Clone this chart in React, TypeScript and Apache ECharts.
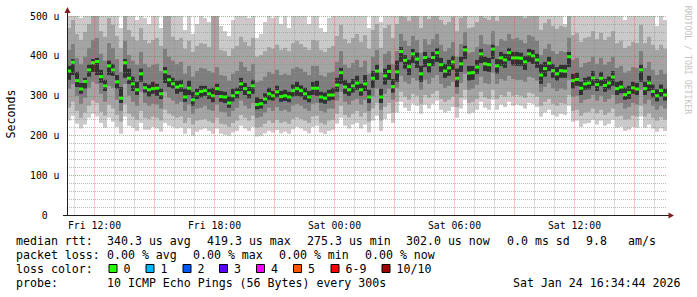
import React, { useEffect, useRef } from 'react';
import * as echarts from 'echarts';

// ---- time axis (hours since Fri 00:00) ----
const START_HOUR = 10.625;
const END_HOUR = 40.625;
const STEP_HOURS = 0.2;

// ---- median rtt (us), one value per 12-minute column ----
const median = [
  362, 384, 338, 317, 336, 365, 383, 386, 348, 325,
  375, 365, 335, 294, 383, 344, 330, 315, 355, 320,
  315, 318, 319, 305, 360, 340, 330, 322, 325, 297,
  319, 290, 305, 311, 313, 305, 300, 318, 298, 297,
  282, 300, 308, 330, 318, 308, 325, 278, 280, 292,
  305, 300, 310, 298, 300, 297, 313, 318, 313, 305,
  297, 319, 319, 297, 294, 302, 302, 327, 358, 322,
  315, 325, 332, 315, 330, 297, 344, 362, 297, 350,
  361, 323, 360, 411, 389, 373, 405, 392, 355, 396,
  378, 396, 408, 378, 362, 370, 385, 344, 380, 415,
  357, 358, 372, 405, 380, 378, 417, 375, 395, 390,
  408, 395, 395, 394, 385, 405, 400, 390, 352, 368,
  382, 363, 355, 363, 362, 398, 338, 341, 319, 330,
  332, 345, 328, 344, 326, 332, 347, 318, 322, 303,
  308, 320, 317, 365, 318, 332, 311, 300, 313, 302,
];

// ---- sorted ping distribution (smoke), us ----
const ping1 = [
  238, 250, 230, 218, 228, 245, 255, 248, 232, 220,
  245, 235, 222, 205, 248, 225, 220, 212, 232, 215,
  215, 222, 218, 210, 232, 225, 222, 218, 220, 205,
  218, 200, 210, 215, 218, 212, 205, 218, 205, 202,
  200, 208, 212, 225, 218, 212, 222, 198, 200, 206,
  212, 208, 214, 206, 210, 205, 216, 222, 218, 212,
  206, 222, 225, 208, 204, 212, 215, 230, 245, 225,
  218, 228, 232, 218, 228, 208, 238, 250, 212, 242,
  255, 232, 258, 285, 270, 262, 280, 275, 255, 278,
  268, 280, 288, 265, 258, 262, 272, 245, 268, 290,
  255, 258, 265, 285, 270, 265, 290, 265, 278, 272,
  285, 275, 278, 275, 268, 282, 280, 272, 248, 258,
  265, 252, 248, 255, 252, 275, 235, 238, 222, 230,
  232, 240, 228, 238, 225, 230, 240, 220, 222, 212,
  215, 222, 220, 248, 220, 228, 218, 210, 218, 212,
];
const ping2 = [
  270, 285, 262, 245, 258, 275, 288, 282, 260, 250,
  278, 268, 252, 235, 280, 255, 248, 240, 262, 245,
  242, 248, 245, 238, 265, 255, 250, 245, 248, 232,
  245, 228, 238, 240, 242, 236, 232, 245, 230, 228,
  222, 232, 238, 252, 245, 238, 250, 220, 222, 230,
  238, 232, 240, 232, 235, 230, 242, 246, 242, 238,
  232, 248, 250, 232, 228, 238, 240, 255, 275, 252,
  246, 255, 262, 248, 258, 235, 268, 282, 238, 272,
  282, 258, 285, 310, 298, 290, 305, 300, 280, 302,
  295, 305, 312, 292, 285, 290, 298, 272, 295, 315,
  282, 285, 292, 310, 296, 292, 315, 292, 302, 298,
  310, 300, 302, 300, 295, 308, 305, 298, 275, 285,
  292, 280, 275, 282, 280, 302, 262, 265, 250, 258,
  260, 268, 256, 265, 252, 258, 268, 248, 250, 240,
  242, 250, 248, 275, 248, 256, 245, 238, 246, 240,
];
const ping3 = [
  318, 330, 300, 280, 295, 320, 335, 330, 305, 285,
  325, 320, 290, 262, 330, 300, 285, 275, 310, 282,
  275, 280, 278, 268, 310, 295, 288, 280, 285, 262,
  278, 255, 268, 270, 275, 265, 262, 278, 260, 258,
  248, 262, 270, 288, 275, 268, 282, 245, 248, 258,
  270, 262, 272, 262, 265, 260, 275, 280, 275, 268,
  262, 280, 282, 262, 258, 268, 268, 288, 310, 285,
  278, 288, 292, 278, 290, 262, 300, 318, 265, 305,
  318, 290, 320, 350, 335, 330, 345, 338, 315, 340,
  330, 345, 352, 330, 320, 325, 335, 305, 332, 355,
  315, 318, 328, 348, 332, 330, 358, 330, 342, 338,
  350, 342, 340, 340, 335, 348, 345, 338, 310, 322,
  332, 318, 312, 318, 315, 340, 298, 300, 282, 290,
  292, 302, 288, 300, 285, 292, 302, 280, 282, 268,
  272, 282, 278, 315, 280, 290, 275, 265, 275, 268,
];
const ping5 = [
  340, 352, 322, 305, 318, 348, 360, 352, 333, 312,
  352, 350, 318, 282, 345, 330, 312, 302, 335, 308,
  298, 305, 300, 292, 332, 322, 318, 305, 310, 285,
  302, 275, 292, 296, 300, 292, 284, 302, 285, 282,
  270, 286, 294, 312, 302, 294, 305, 266, 268, 280,
  290, 288, 296, 285, 287, 284, 298, 300, 298, 290,
  284, 302, 300, 283, 280, 288, 290, 310, 330, 305,
  300, 308, 315, 300, 312, 282, 320, 340, 282, 328,
  340, 308, 335, 385, 368, 352, 382, 370, 335, 372,
  358, 375, 385, 360, 345, 350, 365, 322, 360, 392,
  338, 340, 355, 382, 362, 360, 392, 356, 375, 370,
  388, 376, 375, 375, 365, 385, 380, 370, 330, 348,
  362, 345, 338, 345, 345, 372, 318, 325, 302, 315,
  316, 325, 312, 325, 310, 316, 325, 302, 306, 290,
  292, 305, 302, 335, 302, 312, 296, 286, 298, 288,
];
const ping6 = [
  375, 392, 360, 332, 345, 378, 392, 395, 365, 340,
  388, 380, 352, 322, 392, 368, 348, 335, 368, 332,
  328, 335, 330, 318, 372, 352, 345, 338, 340, 318,
  338, 310, 318, 325, 325, 318, 320, 330, 312, 310,
  298, 318, 320, 345, 332, 322, 340, 296, 292, 306,
  320, 312, 325, 312, 315, 310, 328, 335, 326, 320,
  312, 335, 338, 310, 308, 315, 320, 345, 370, 340,
  332, 342, 350, 330, 352, 315, 362, 378, 318, 368,
  378, 342, 388, 422, 402, 390, 418, 408, 375, 410,
  395, 410, 420, 395, 380, 390, 400, 368, 398, 425,
  375, 375, 390, 418, 398, 395, 428, 392, 410, 405,
  420, 410, 410, 408, 400, 418, 415, 405, 380, 385,
  398, 380, 372, 378, 378, 410, 355, 358, 335, 345,
  348, 362, 342, 360, 342, 348, 362, 335, 338, 320,
  325, 335, 332, 378, 335, 350, 328, 316, 328, 318,
];
const ping8 = [
  415, 430, 395, 380, 398, 420, 440, 445, 405, 388,
  432, 420, 392, 360, 438, 402, 388, 378, 410, 380,
  372, 378, 380, 362, 418, 398, 388, 380, 385, 355,
  375, 348, 362, 370, 368, 362, 358, 372, 352, 350,
  338, 355, 362, 385, 372, 362, 380, 335, 338, 348,
  360, 355, 365, 352, 355, 352, 368, 372, 368, 360,
  352, 375, 375, 352, 348, 358, 360, 385, 412, 378,
  370, 382, 390, 372, 388, 355, 398, 415, 358, 405,
  412, 380, 412, 455, 438, 425, 450, 440, 408, 442,
  428, 442, 455, 428, 412, 420, 435, 398, 430, 460,
  408, 410, 422, 452, 430, 428, 462, 425, 442, 438,
  455, 442, 445, 440, 432, 452, 448, 438, 402, 418,
  430, 412, 405, 412, 410, 445, 390, 395, 372, 382,
  385, 398, 380, 395, 378, 385, 398, 370, 375, 358,
  362, 372, 370, 412, 370, 385, 365, 352, 365, 355,
];
const ping9 = [
  470, 490, 455, 440, 460, 480, 500, 505, 462, 448,
  495, 478, 450, 420, 500, 465, 448, 438, 470, 440,
  432, 440, 445, 425, 520, 505, 448, 440, 445, 418,
  438, 410, 425, 432, 430, 422, 510, 500, 415, 412,
  400, 418, 425, 448, 435, 425, 445, 398, 402, 412,
  422, 418, 428, 415, 420, 412, 432, 438, 430, 422,
  415, 440, 438, 415, 410, 420, 425, 450, 478, 442,
  432, 445, 455, 435, 452, 418, 465, 480, 420, 470,
  478, 445, 480, 515, 498, 488, 510, 500, 470, 505,
  492, 505, 515, 490, 478, 485, 498, 462, 495, 520,
  470, 472, 485, 512, 495, 490, 520, 488, 505, 500,
  515, 505, 508, 502, 495, 512, 508, 500, 465, 482,
  492, 475, 468, 475, 472, 508, 452, 458, 435, 445,
  448, 462, 442, 458, 440, 448, 462, 432, 438, 420,
  425, 435, 432, 478, 432, 448, 428, 415, 428, 418,
];
const ping10 = [
  560, 610, 520, 495, 540, 580, 620, 640, 530, 505,
  600, 560, 515, 470, 620, 535, 505, 490, 550, 495,
  480, 500, 520, 470, 600, 560, 530, 505, 520, 465,
  510, 455, 480, 505, 495, 485, 560, 540, 475, 462,
  450, 490, 505, 560, 520, 495, 545, 445, 455, 485,
  510, 495, 530, 480, 500, 470, 525, 545, 520, 500,
  480, 540, 525, 470, 460, 495, 505, 565, 610, 540,
  505, 540, 560, 515, 555, 470, 580, 620, 485, 590,
  600, 540, 610, 680, 640, 620, 660, 640, 590, 650,
  620, 650, 670, 610, 580, 600, 640, 560, 620, 680,
  590, 595, 615, 660, 630, 620, 680, 610, 650, 640,
  670, 640, 650, 640, 625, 660, 650, 540, 560, 600,
  620, 590, 570, 590, 480, 650, 550, 560, 520, 530,
  540, 570, 530, 560, 520, 540, 570, 510, 525, 490,
  500, 530, 520, 600, 520, 545, 505, 475, 510, 490,
];

// ---- axes ----
const xLabelHours = [12, 18, 24, 30, 36];
const xLabels = ['Fri 12:00', 'Fri 18:00', 'Sat 00:00', 'Sat 06:00', 'Sat 12:00'];
const gridHours = [11, 12, 13, 14, 15, 16, 17, 18, 19, 20, 21, 22, 23, 24, 25, 26, 27, 28, 29, 30, 31, 32, 33, 34, 35, 36, 37, 38, 39, 40];
const majorGridHours = [12, 15, 18, 21, 24, 27, 30, 33, 36, 39];

// ---- legend texts ----
const rttTexts = ['median rtt:', '340.3 us avg', '419.3 us max', '275.3 us min', '302.0 us now', '0.0 ms sd', '9.8', 'am/s'];
const lossTexts = ['packet loss:', '0.00 % avg', '0.00 % max', '0.00 % min', '0.00 % now'];
const lossLabels = ['0', '1', '2', '3', '4', '5', '6-9', '10/10'];
const lossColors = ['#26ff00', '#00b8ff', '#0059ff', '#5e00ff', '#ff00ff', '#ff5500', '#ff0000', '#a10000'];
const probeText = '10 ICMP Echo Pings (56 Bytes) every 300s';
const stampText = 'Sat Jan 24 16:34:44 2026';

// ---- layout (pixels) ----
const rttX = [16, 107, 207, 307, 406, 507, 586, 628];
const lossX = [16, 107, 193, 279, 365];
const boxX = [108.5, 145.5, 182.5, 219, 256, 293, 330.5, 381.5];
const MONO = '"DejaVu Sans Mono", "Liberation Mono", monospace';
const LEG_FONT = `11.6px ${MONO}`;

const LAYERS: [number, number, string][] = [
  [1, 8, '#cacaca'],
  [2, 7, '#a4a4a4'],
  [3, 6, '#7e7e7e'],
  [4, 5, '#323232'],
];

function renderItem(params: any, api: any) {
  const t = api.value(0);
  const a = api.coord([t, 0]);
  const b = api.coord([t + STEP_HOURS, 0]);
  const top = params.coordSys.y;
  const x = a[0];
  const w = b[0] - a[0];
  const yOf = (v: number) => Math.max(top, api.coord([t, v])[1]);
  const children: any[] = LAYERS.map(([lo, hi, fill]) => {
    const y1 = yOf(api.value(lo));
    const y2 = yOf(api.value(hi));
    return { type: 'rect', shape: { x, y: y2, width: w, height: Math.max(0, y1 - y2) }, style: { fill } };
  });
  const ym = yOf(api.value(9));
  children.push({ type: 'rect', shape: { x, y: ym - 1.5, width: w, height: 3 }, style: { fill: '#26ff00' } });
  return { type: 'group', children };
}

export default function App() {
  const ref = useRef<HTMLDivElement>(null);
  useEffect(() => {
    if (!ref.current) return;
    const chart = echarts.init(ref.current, undefined, { renderer: 'svg' });
    const data = median.map((m, i) => [
      START_HOUR + i * STEP_HOURS,
      ping1[i], ping2[i], ping3[i], ping5[i], ping6[i], ping8[i], ping9[i], ping10[i], m,
    ]);
    const graphic: any[] = [];
    rttTexts.forEach((t, i) => graphic.push({ type: 'text', x: rttX[i], y: 241, style: { text: t, font: LEG_FONT, fill: '#000', textVerticalAlign: 'middle' } }));
    lossTexts.forEach((t, i) => graphic.push({ type: 'text', x: lossX[i], y: 255, style: { text: t, font: LEG_FONT, fill: '#000', textVerticalAlign: 'middle' } }));
    graphic.push({ type: 'text', x: 16, y: 269, style: { text: 'loss color:', font: LEG_FONT, fill: '#000', textVerticalAlign: 'middle' } });
    lossLabels.forEach((t, i) => {
      graphic.push({ type: 'rect', shape: { x: boxX[i] + 0.5, y: 264.5, width: 8, height: 8 }, style: { fill: lossColors[i], stroke: '#000', lineWidth: 1 } });
      graphic.push({ type: 'text', x: boxX[i] + 15, y: 269, style: { text: t, font: LEG_FONT, fill: '#000', textVerticalAlign: 'middle' } });
    });
    graphic.push({ type: 'text', x: 16, y: 283, style: { text: 'probe:', font: LEG_FONT, fill: '#000', textVerticalAlign: 'middle' } });
    graphic.push({ type: 'text', x: 107, y: 283, style: { text: probeText, font: LEG_FONT, fill: '#000', textVerticalAlign: 'middle' } });
    graphic.push({ type: 'text', x: 680.5, y: 283, style: { text: stampText, font: LEG_FONT, fill: '#000', textAlign: 'right', textVerticalAlign: 'middle' } });
    graphic.push({ type: 'text', x: 11, y: 114, rotation: Math.PI / 2, style: { text: 'Seconds', font: LEG_FONT, fill: '#000', textAlign: 'center', textVerticalAlign: 'middle' } });
    graphic.push({ type: 'text', x: 688, y: 60, rotation: -Math.PI / 2, style: { text: 'RRDTOOL / TOBI OETIKER', font: `8.2px ${MONO}`, fill: '#c4c4c4', textAlign: 'center', textVerticalAlign: 'middle' } });
    // axis extensions and arrows
    graphic.push({ type: 'line', shape: { x1: 67.5, y1: 16, x2: 67.5, y2: 11 }, style: { stroke: '#1f1f1f', lineWidth: 1 } });
    graphic.push({ type: 'polygon', shape: { points: [[64.5, 13], [70.5, 13], [67.5, 7]] }, style: { fill: '#801f1f' } });
    graphic.push({ type: 'line', shape: { x1: 63, y1: 215.5, x2: 67, y2: 215.5 }, style: { stroke: '#1f1f1f', lineWidth: 1 } });
    graphic.push({ type: 'line', shape: { x1: 667, y1: 215.5, x2: 669, y2: 215.5 }, style: { stroke: '#1f1f1f', lineWidth: 1 } });
    graphic.push({ type: 'polygon', shape: { points: [[668.5, 212.5], [668.5, 218.5], [674, 215.5]] }, style: { fill: '#801f1f' } });

    const option: any = {
      animation: false,
      backgroundColor: '#ffffff',
      grid: { left: 67, top: 16, width: 600, height: 199.5, containLabel: false, outerBoundsMode: 'none' },
      xAxis: {
        type: 'value', min: START_HOUR, max: END_HOUR, z: 10,
        axisLine: { show: true, onZero: false, lineStyle: { color: '#1f1f1f', width: 1 } },
        axisTick: { show: false },
        splitLine: { show: false },
        axisLabel: {
          customValues: xLabelHours,
          formatter: (v: number) => xLabels[xLabelHours.indexOf(Math.round(v))] ?? '',
          fontFamily: MONO, fontSize: 9.8, color: '#000', margin: 5,
        },
      },
      yAxis: {
        type: 'value', min: 0, max: 500, interval: 100, z: 10,
        axisLine: { show: true, onZero: false, lineStyle: { color: '#1f1f1f', width: 1 } },
        axisTick: { show: false },
        minorTick: { show: false, splitNumber: 5 },
        splitLine: { show: true, lineStyle: { color: 'rgba(222,79,79,0.6)', type: [1, 1], width: 1 } },
        minorSplitLine: { show: true, lineStyle: { color: 'rgba(143,143,143,0.6)', type: [1, 1], width: 1 } },
        axisLabel: {
          formatter: (v: number) => (v === 0 ? '0\u00a0\u00a0' : `${v} u`),
          fontFamily: MONO, fontSize: 9.8, color: '#000', margin: 7.5,
        },
      },
      series: [
        {
          type: 'custom', data, renderItem, z: 2, silent: true,
          encode: { x: 0, y: 9 },
          markLine: {
            silent: true, symbol: ['none', 'none'], label: { show: false }, animation: false,
            emphasis: { disabled: true },
            data: gridHours.map((h) => ({
              xAxis: h,
              lineStyle: majorGridHours.includes(h)
                ? { color: 'rgba(222,79,79,0.6)', type: [1, 1], width: 1 }
                : { color: 'rgba(143,143,143,0.6)', type: [1, 1], width: 1 },
            })),
          },
        },
      ],
      graphic,
    };
    chart.setOption(option);
    return () => chart.dispose();
  }, []);
  return <div ref={ref} style={{ position: 'fixed', left: 0, top: 0, width: 697, height: 297 }} />;
}
